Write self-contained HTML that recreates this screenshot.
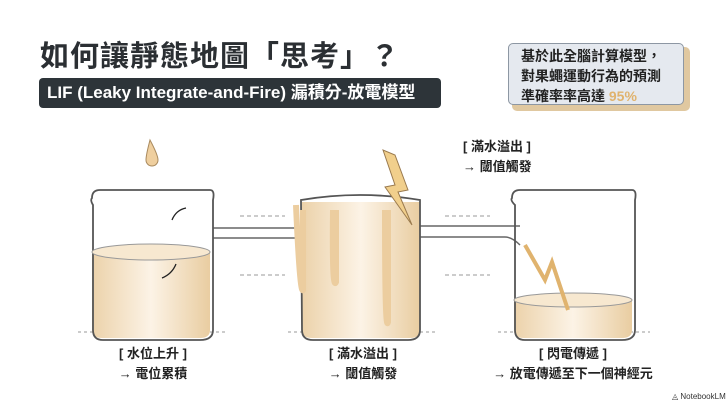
<!DOCTYPE html><html><head><meta charset="utf-8"><style>
body{margin:0;width:728px;height:409px;background:#fff;overflow:hidden;position:relative;font-family:"Liberation Sans","Noto Sans CJK TC",sans-serif;color:#222}
.t{position:absolute;white-space:nowrap}
</style></head><body>
<div class="t" style="left:40px;top:33px;font-size:29px;font-weight:bold;color:#2b2f33;letter-spacing:1px">如何讓靜態地圖「思考」？</div>
<div class="t" style="left:39px;top:78px;width:402px;height:30px;background:#2d3439;border-radius:4px;color:#fff;font-size:17px;font-weight:bold;line-height:30px;padding-left:8px;box-sizing:border-box">LIF (Leaky Integrate-and-Fire) 漏積分-放電模型</div>
<div class="t" style="left:512px;top:47px;width:178px;height:64px;background:#e0c8a0;border-radius:5px"></div>
<div class="t" style="left:508px;top:43px;width:176px;height:62px;background:#e5e9ef;border:1.5px solid #8d97a3;border-radius:5px;font-size:14px;font-weight:bold;line-height:20px;padding:2px 0 0 12px;box-sizing:border-box;color:#222">基於此全腦計算模型，<br>對果蠅運動行為的預測<br>準確率率高達 <span style="color:#e0b36e">95%</span></div>
<svg width="728" height="409" style="position:absolute;left:0;top:0">
<defs><linearGradient id="lq" x1="0" x2="1"><stop offset="0" stop-color="#ecd2aa"/><stop offset=".5" stop-color="#fcf3e6"/><stop offset="1" stop-color="#e9cda1"/></linearGradient></defs>
<g stroke="#999" stroke-dasharray="3,3" stroke-width="1"><line x1="78" y1="332" x2="228" y2="332"/><line x1="288" y1="332" x2="438" y2="332"/><line x1="498" y1="332" x2="650" y2="332"/></g>
<path d="M213 228 H302 M213 238 H302" stroke="#666" stroke-width="1.5" fill="none"/>
<path d="M420 226 H520 M420 237 H505 Q512 237 520 245" stroke="#666" stroke-width="1.5" fill="none"/>
<g stroke="#999" stroke-dasharray="4,3" fill="none" stroke-width="1"><line x1="240" y1="216" x2="285" y2="216"/><line x1="240" y1="275" x2="285" y2="275"/><line x1="445" y1="216" x2="490" y2="216"/><line x1="445" y1="275" x2="490" y2="275"/></g>
<path d="M92 252 H210 V330 Q210 338 200 338 H102 Q92 338 92 330Z" fill="url(#lq)"/>
<path d="M92 198 Q92 190 100 190 H210 Q215 190 213 200 V330 Q213 340 200 340 H103 Q93 340 93 330 V205 Q90 200 92 198Z" fill="none" stroke="#555" stroke-width="1.8"/>
<ellipse cx="151" cy="252" rx="59" ry="8" fill="#f7e8d0" stroke="#999"/>
<path d="M150 140 Q146 155 146 160 A6 6 0 0 0 158 160 Q158 155 150 140Z" fill="#efcf9f" stroke="#a98a5e"/>
<path d="M172 220 q4 -10 14 -12 M162 278 q10 -4 14 -14" stroke="#222" fill="none" stroke-width="1.3"/>
<path d="M302 202 H420 V330 Q420 338 410 338 H312 Q302 338 302 330Z" fill="url(#lq)"/>
<path d="M301 200 Q360 190 420 200 V330 Q420 340 408 340 H313 Q302 340 302 330Z" fill="none" stroke="#555" stroke-width="1.8"/>
<path d="M296 205 Q300 295 303 290 V210 M333 210 Q332 292 336 282 V210 M385 210 Q385 335 388 322 V210" stroke="#eccd9f" stroke-width="6" fill="none"/>
<path d="M383 150 L395 185 L385 187 L412 225 L398 192 L408 190 L395 155Z" fill="#f1cf8c" stroke="#9a7a4e"/>
<path d="M514 300 H632 V330 Q632 338 622 338 H524 Q514 338 514 330Z" fill="url(#lq)"/>
<path d="M512 198 Q512 190 520 190 H632 Q637 190 635 200 V330 Q635 340 622 340 H525 Q515 340 515 330 V205 Q510 200 512 198Z" fill="none" stroke="#555" stroke-width="1.8"/>
<ellipse cx="573" cy="300" rx="59" ry="7" fill="#f7e8d0" stroke="#999"/>
<path d="M525 245 L545 280 L552 262 L568 310" stroke="#e0b36e" stroke-width="4" fill="none"/>
</svg>
<div class="t" style="left:463px;top:137px;font-size:13px;font-weight:bold;line-height:20px">[ 滿水溢出 ]<br>→ 閾值觸發</div>
<div class="t" style="left:93px;top:344px;width:120px;text-align:center;font-size:13px;font-weight:bold;line-height:20px">[ 水位上升 ]<br>→ 電位累積</div>
<div class="t" style="left:303px;top:344px;width:120px;text-align:center;font-size:13px;font-weight:bold;line-height:20px">[ 滿水溢出 ]<br>→ 閾值觸發</div>
<div class="t" style="left:493px;top:344px;width:160px;text-align:center;font-size:13px;font-weight:bold;line-height:20px">[ 閃電傳遞 ]<br>→ 放電傳遞至下一個神經元</div>
<div class="t" style="left:672px;top:392px;font-size:8px;color:#333">◬ NotebookLM</div>
</body></html>
